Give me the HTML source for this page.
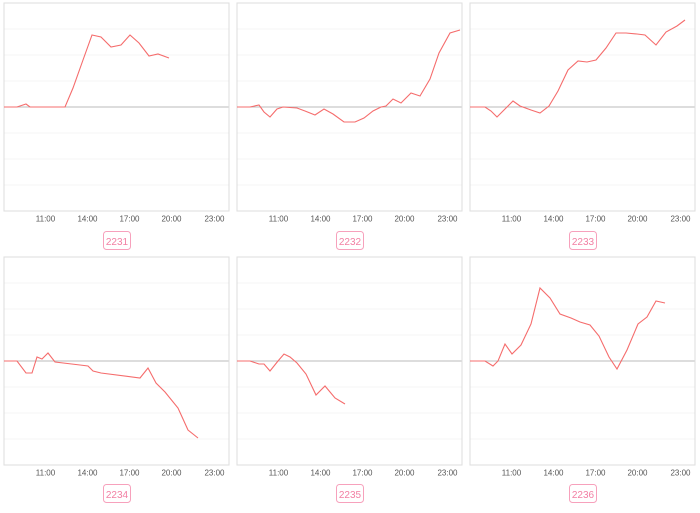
<!DOCTYPE html><html><head><style>body{margin:0;background:#fff;width:700px;height:508px;overflow:hidden}</style></head><body>
<svg width="700" height="508" xmlns="http://www.w3.org/2000/svg" font-family="Liberation Sans, sans-serif">
<defs>
<g id="p">
<rect x="0.5" y="0.5" width="225" height="208" fill="#fff" stroke="#ddd"/>
<g stroke="#f4f4f4"><line x1="1" x2="225" y1="26.5" y2="26.5"/><line x1="1" x2="225" y1="52.5" y2="52.5"/><line x1="1" x2="225" y1="78.5" y2="78.5"/><line x1="1" x2="225" y1="130.5" y2="130.5"/><line x1="1" x2="225" y1="156.5" y2="156.5"/><line x1="1" x2="225" y1="182.5" y2="182.5"/></g>
<line x1="1" x2="225" y1="104.5" y2="104.5" stroke="#bbb"/>
<g font-size="8" fill="#555" text-anchor="middle"><text x="42" y="219">11:00</text><text x="84" y="219">14:00</text><text x="126" y="219">17:00</text><text x="168" y="219">20:00</text><text x="211" y="219">23:00</text></g>
</g>
</defs>
<use href="#p" x="3.5" y="2.5"/><use href="#p" x="236.5" y="2.5"/><use href="#p" x="469.5" y="2.5"/>
<use href="#p" x="3.5" y="256.5"/><use href="#p" x="236.5" y="256.5"/><use href="#p" x="469.5" y="256.5"/>
<g fill="none" stroke="#f56c6c" stroke-width="1.1">
<polyline points="4,107 17,107 26,104 30,107 65,107 73,88 83,60 92,35 101,37 111,47 121,45 130,35 139,43 149,56 158,54 169,58"/>
<polyline points="237,107 250,107 259,105 264,112 270,117 277,109 283,107 297,108 305,111 315,115 324,109 333,114 344,122 355,122 364,118 373,111 381,107 386,106 393,99 401,103 411,93 420,96 430,79 439,53 450,33 460,30"/>
<polyline points="470,107 485,107 491,111 497,117 505,109 513,101 520,106 531,110 540,113 549,106 558,91 568,70 578,61 587,62 596,60 606,48 616,33 626,33 637,34 645,35 656,45 666,32 677,26 685,20"/>
<polyline points="4,361 17,361 26,373 32,373 37,357 42,359 48,353 55,362 80,365 88,366 93,371 101,373 140,378 148,368 156,383 165,392 178,408 188,430 198,438"/>
<polyline points="237,361 250,361 259,364 264,364 270,371 278,361 284,354 290,357 297,363 306,374 316,395 325,386 335,398 345,404"/>
<polyline points="470,361 485,361 493,366 498,361 505,344 512,354 521,345 531,324 540,288 550,298 560,314 571,318 580,322 590,325 599,336 609,357 617,369 627,350 638,324 647,317 656,301 665,303"/>
</g>
<g fill="#fff" stroke="#f7a1bc" stroke-width="1"><rect x="103.5" y="231.5" width="27" height="18" rx="3"/><rect x="336.5" y="231.5" width="27" height="18" rx="3"/><rect x="569.5" y="231.5" width="27" height="18" rx="3"/><rect x="103.5" y="484.5" width="27" height="18" rx="3"/><rect x="336.5" y="484.5" width="27" height="18" rx="3"/><rect x="569.5" y="484.5" width="27" height="18" rx="3"/></g>
<g font-size="10" fill="#f27fa3" text-anchor="middle"><text x="117" y="245">2231</text><text x="350" y="245">2232</text><text x="583" y="245">2233</text><text x="117" y="498">2234</text><text x="350" y="498">2235</text><text x="583" y="498">2236</text></g>
</svg>
</body></html>
